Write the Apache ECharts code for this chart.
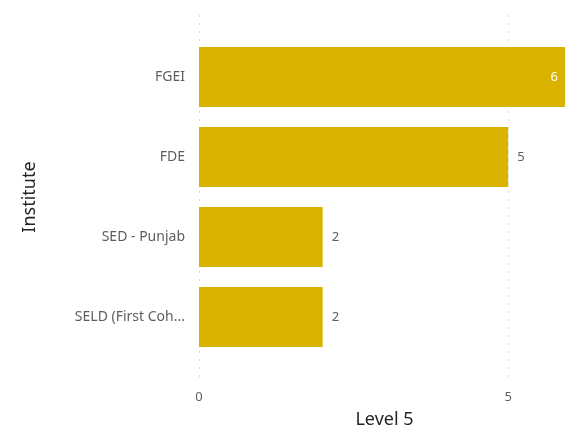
<!DOCTYPE html>
<html>
<head>
<meta charset="utf-8">
<script src="https://cdn.jsdelivr.net/npm/echarts@6/dist/echarts.min.js"></script>
<style>
  html, body { margin: 0; padding: 0; background: #fff; }
  #chart { width: 565px; height: 433px; }
</style>
</head>
<body>
<div id="chart"></div>
<script>
var institutes = ['FGEI', 'FDE', 'SED - Punjab', 'SELD (First Coh...'];
var level5 = [6, 5, 2, 2];
var xTicks = [0, 5];

var chart = echarts.init(document.getElementById('chart'));
var font = '"Noto Sans", "Open Sans", sans-serif';

var option = {
	animation: false,
	textStyle: { fontFamily: font },
	grid: [
		// bars
		{ left: 199, width: 371, top: 37, height: 320, containLabel: false, outerBoundsMode: 'none' },
		// dotted gridlines + x labels, taller than the bars area
		{ left: 199, width: 371, top: 15, height: 368, containLabel: false, outerBoundsMode: 'none' }
	],
	xAxis: [
		{
			gridIndex: 0, type: 'value', min: 0, max: 6, interval: 5,
			axisLine: { show: false }, axisTick: { show: false },
			axisLabel: { show: false }, splitLine: { show: false }
		},
		{
			gridIndex: 1, type: 'value', min: 0, max: 6, interval: 5,
			axisLine: { show: false }, axisTick: { show: false },
			axisLabel: {
				color: '#605E5C', fontSize: 13, margin: 8, fontFamily: font,
				formatter: function (v) { return xTicks.indexOf(v) >= 0 ? String(v) : ''; }
			},
			splitLine: { show: true, lineStyle: { color: '#d6d6d6', width: 1, type: [2, 6] } },
			name: 'Level 5', nameLocation: 'middle', nameGap: 28,
			nameTextStyle: { color: '#252423', fontSize: 18, fontFamily: font }
		}
	],
	yAxis: [
		{
			gridIndex: 0, type: 'category', data: institutes, inverse: true,
			axisLine: { show: false }, axisTick: { show: false },
			axisLabel: { color: '#605E5C', fontSize: 14, margin: 14, fontFamily: font },
			name: 'Institute', nameLocation: 'middle', nameRotate: 90, nameGap: 160,
			nameTextStyle: { color: '#252423', fontSize: 18, fontFamily: font }
		},
		{
			gridIndex: 1, type: 'value', show: false
		}
	],
	series: [
		{
			type: 'bar', xAxisIndex: 0, yAxisIndex: 0,
			data: level5.map(function (v) {
				var inside = v >= 6;
				return {
					value: v,
					label: inside
						? { position: 'insideRight', distance: 12, color: '#ffffff' }
						: { position: 'right', distance: 9, color: '#605E5C' }
				};
			}),
			barCategoryGap: '25%',
			itemStyle: { color: '#D9B300' },
			label: { show: true, fontSize: 13, fontFamily: font }
		}
	]
};
chart.setOption(option);
</script>
</body>
</html>
